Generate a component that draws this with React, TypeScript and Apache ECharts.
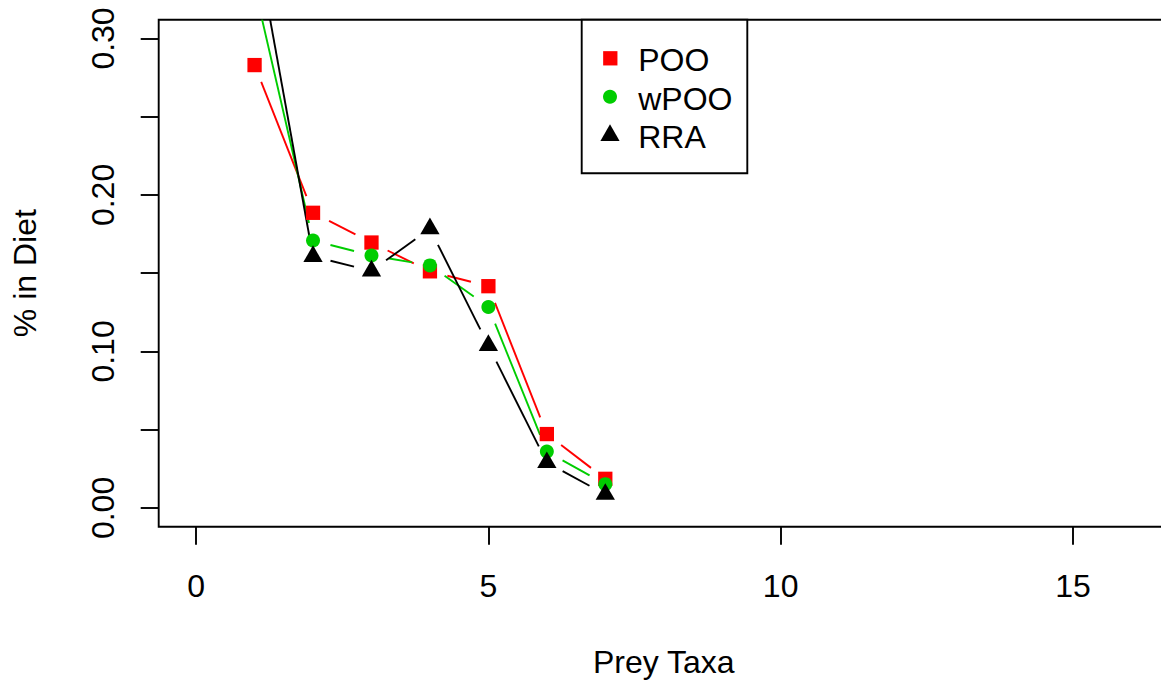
import React, { useEffect, useRef } from "react";
import * as echarts from "echarts";

// Prey taxa rank and share of diet for each metric
const taxa = [1, 2, 3, 4, 5, 6, 7];
const poo = [0.283, 0.1886, 0.1696, 0.1512, 0.1417, 0.0472, 0.0186];
const wpoo = [0.333, 0.1709, 0.1613, 0.155, 0.1284, 0.036, 0.0152];
const rra = [0.367, 0.1607, 0.1515, 0.1784, 0.1038, 0.029, 0.0087];

const seriesNames = ["POO", "wPOO", "RRA"];
const seriesColors = ["#FF0000", "#00CD00", "#000000"];

const xTicks = [0, 5, 10, 15];
const yTicks = [0, 0.05, 0.1, 0.15, 0.2, 0.25, 0.3];
const yLabels = [0, 0.1, 0.2, 0.3];

const FONT = "'Liberation Sans', Arial, Helvetica, sans-serif";
const FS = 32;
const GAP = 18; // gap left around each point by the connecting segments
const LW = 1.9;

// the plotting box runs a little past the right edge of the visible page
const CHART_W = 1180;
const CHART_H = 683;

function segments(values: number[]) {
  return taxa.slice(0, -1).map((x, i) => [x, values[i], taxa[i + 1], values[i + 1]]);
}

function points(values: number[]) {
  return taxa.map((x, i) => [x, values[i]]);
}

function gappedLine(name: string, values: number[], color: string) {
  return {
    type: "custom",
    name,
    clip: true,
    silent: true,
    data: segments(values),
    renderItem: (_params: any, api: any) => {
      const a = api.coord([api.value(0), api.value(1)]);
      const b = api.coord([api.value(2), api.value(3)]);
      const dx = b[0] - a[0];
      const dy = b[1] - a[1];
      const len = Math.hypot(dx, dy);
      if (len <= 2 * GAP) return null;
      const ux = dx / len;
      const uy = dy / len;
      return {
        type: "line",
        shape: {
          x1: a[0] + ux * GAP,
          y1: a[1] + uy * GAP,
          x2: b[0] - ux * GAP,
          y2: b[1] - uy * GAP,
        },
        style: { stroke: color, lineWidth: LW, fill: null },
      };
    },
  };
}

function markers(name: string, values: number[], color: string, symbol: string, size: any, offset: number[]) {
  return {
    type: "scatter",
    name,
    clip: true,
    data: points(values),
    symbol,
    symbolSize: size,
    symbolOffset: offset,
    itemStyle: { color, opacity: 1 },
  };
}

export default function App() {
  const ref = useRef<HTMLDivElement>(null);

  useEffect(() => {
    if (!ref.current) return;
    const chart = echarts.init(ref.current, null, { renderer: "svg" });

    const legendRows = [58.3, 96.7, 135.4];
    const legendText = [60.2, 98.8, 137];

    const option: any = {
      animation: false,
      backgroundColor: "#ffffff",
      grid: {
        left: 158.7,
        top: 19.7,
        right: CHART_W - 1168.8,
        bottom: 152.3,
        show: true,
        borderColor: "#000",
        borderWidth: LW,
        backgroundColor: "transparent",
      },
      xAxis: {
        type: "value",
        min: -0.64,
        max: 16.64,
        axisLine: { show: false, onZero: false },
        splitLine: { show: false },
        axisTick: {
          show: true,
          length: 18,
          customValues: xTicks,
          lineStyle: { color: "#000", width: LW },
        },
        axisLabel: {
          customValues: xTicks,
          margin: 58.8,
          verticalAlign: "middle",
          fontSize: FS,
          fontFamily: FONT,
          color: "#000",
        },
        name: "Prey Taxa",
        nameLocation: "middle",
        nameGap: 135.3,
        nameTextStyle: { fontSize: FS, fontFamily: FONT, color: "#000", verticalAlign: "middle" },
      },
      yAxis: {
        type: "value",
        min: -0.012,
        max: 0.312,
        axisLine: { show: false, onZero: false },
        splitLine: { show: false },
        axisTick: {
          show: true,
          length: 18,
          customValues: yTicks,
          lineStyle: { color: "#000", width: LW },
        },
        axisLabel: {
          customValues: yLabels,
          formatter: (v: number) => v.toFixed(2),
          rotate: 90,
          margin: 56,
          align: "center",
          verticalAlign: "middle",
          fontSize: FS,
          fontFamily: FONT,
          color: "#000",
        },
        name: "% in Diet",
        nameLocation: "middle",
        nameGap: 134,
        nameRotate: 90,
        nameTextStyle: { fontSize: FS, fontFamily: FONT, color: "#000", verticalAlign: "middle" },
      },
      series: [
        gappedLine(seriesNames[0], poo, seriesColors[0]),
        markers(seriesNames[0], poo, seriesColors[0], "rect", 14.3, [0, 0]),
        gappedLine(seriesNames[1], wpoo, seriesColors[1]),
        markers(seriesNames[1], wpoo, seriesColors[1], "circle", 14, [0, 0]),
        gappedLine(seriesNames[2], rra, seriesColors[2]),
        markers(seriesNames[2], rra, seriesColors[2], "triangle", [19.3, 16.7], [0, -2.8]),
      ],
      graphic: [
        {
          type: "group",
          z: 100,
          children: [
            {
              type: "rect",
              shape: { x: 581.7, y: 19.7, width: 165.6, height: 153.6 },
              style: { fill: "#fff", stroke: "#000", lineWidth: LW },
            },
            {
              type: "rect",
              shape: { x: 610.3 - 7.15, y: legendRows[0] - 7.15, width: 14.3, height: 14.3 },
              style: { fill: seriesColors[0] },
            },
            {
              type: "circle",
              shape: { cx: 610, cy: legendRows[1], r: 7 },
              style: { fill: seriesColors[1] },
            },
            {
              type: "polygon",
              shape: {
                points: [
                  [610, legendRows[2] - 11.1],
                  [619.6, legendRows[2] + 5.5],
                  [600.4, legendRows[2] + 5.5],
                ],
              },
              style: { fill: seriesColors[2] },
            },
            ...seriesNames.map((name, i) => ({
              type: "text",
              x: 638.2,
              y: legendText[i],
              style: {
                text: name,
                fontSize: FS,
                fontFamily: FONT,
                fill: "#000",
                align: "left",
                verticalAlign: "middle",
              },
            })),
          ],
        },
      ],
    };

    chart.setOption(option);
    return () => chart.dispose();
  }, []);

  return (
    <div
      style={{
        position: "fixed",
        left: 0,
        top: 0,
        width: 1161,
        height: 683,
        overflow: "hidden",
        background: "#fff",
      }}
    >
      <div ref={ref} style={{ width: CHART_W, height: CHART_H }} />
    </div>
  );
}
